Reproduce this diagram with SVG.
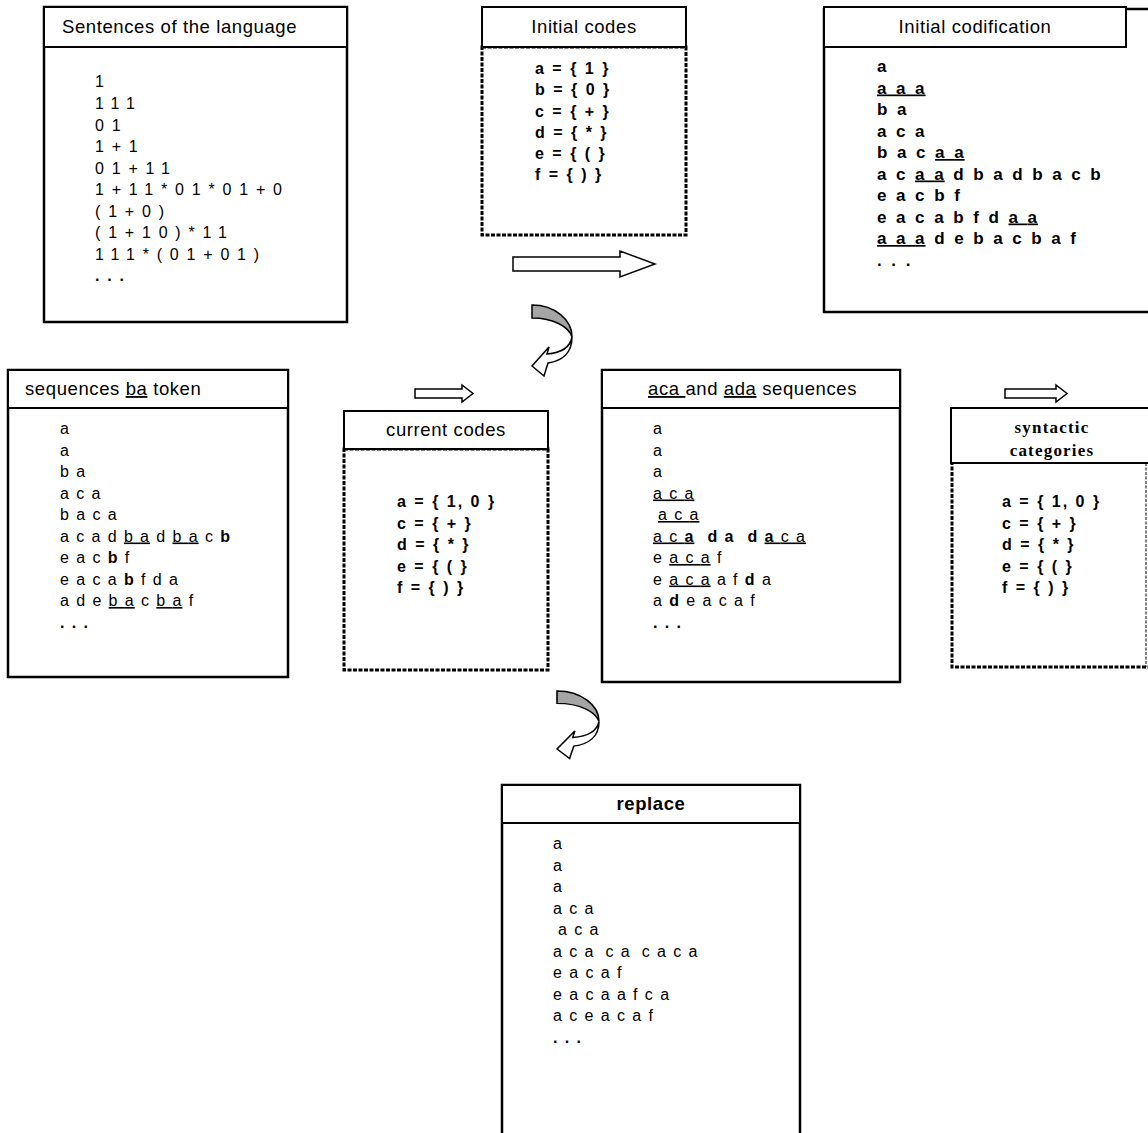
<svg xmlns="http://www.w3.org/2000/svg" width="1148" height="1133" viewBox="0 0 1148 1133">
<defs>
<style>
.box{fill:#fff;stroke:#000;stroke-width:2.5}
.hdr{fill:#fff;stroke:#000;stroke-width:2}
.bg{fill:#fff;stroke:none}
.dot{fill:none;stroke:#000;stroke-width:3;stroke-dasharray:4 1.5}
.thin{fill:none;stroke:#000;stroke-width:1;stroke-dasharray:3 1.5}
.ttl{font-family:"Liberation Sans",Arial,sans-serif;font-size:18.5px;letter-spacing:0.6px;fill:#000}
.ser{font-family:"Liberation Serif","Times New Roman",serif;font-size:17px;font-weight:bold;letter-spacing:1.2px;fill:#000}
.seq{font-family:"Liberation Sans",Arial,sans-serif;font-size:16px;letter-spacing:7.3px;fill:#000}
.num{font-family:"Liberation Sans",Arial,sans-serif;font-size:16px;letter-spacing:7.8px;fill:#000}
.ic{font-family:"Liberation Sans",Arial,sans-serif;font-size:17px;font-weight:bold;letter-spacing:9.6px;fill:#000}
.cod{font-family:"Liberation Sans",Arial,sans-serif;font-size:16px;font-weight:bold;letter-spacing:2px;fill:#000}
.mid{text-anchor:middle}
.b{font-weight:bold}
.u{text-decoration:underline}
.e{letter-spacing:1px}
.arr{fill:#fff;stroke:#000;stroke-width:1.5;stroke-linejoin:miter}
.band{fill:#a5a5a5;stroke:#000;stroke-width:1.5}
</style>
<g id="curl">
<path class="arr" d="M40,32 C38,43 28,48 15,49 L17,42 L0,61 L12,71 L16,58 C30,56 40,48 40,32 Z"/>
<path class="band" d="M0,0 C23,0 40,15 40,32 C37,22 22,13 0,13 Z"/>
</g>
</defs>
<rect width="1148" height="1133" fill="#fff"/>

<g id="connectors">
<path class="arr" d="M513,257 H620 V251 L655,264 L620,277 V271 H513 Z"/>
<path class="arr" d="M415,389 H462 V385 L473,393.5 L462,402 V398 H415 Z"/>
<path class="arr" d="M1005,389 H1056 V385 L1067,393.5 L1056,402 V398 H1005 Z"/>
<use href="#curl" transform="translate(532,305)"/>
<use href="#curl" transform="translate(557,691) scale(1.05,0.95)"/>
</g>

<g id="sentences">
<rect class="box" x="44" y="7" width="303" height="315"/>
<rect class="hdr" x="44" y="7" width="303" height="40"/>
<text class="ttl" x="62" y="33">Sentences of the language</text>
<text class="num" x="95" y="87">1</text>
<text class="num" x="95" y="109">111</text>
<text class="num" x="95" y="130.5">01</text>
<text class="num" x="95" y="152">1+1</text>
<text class="num" x="95" y="173.5">01+11</text>
<text class="num" x="95" y="195">1+11*01*01+0</text>
<text class="num" x="95" y="216.5">(1+0)</text>
<text class="num" x="95" y="238">(1+10)*11</text>
<text class="num" x="95" y="259.5">111*(01+01)</text>
<text class="num b" x="95" y="281">...</text>
</g>

<g id="initial-codes">
<rect class="bg" x="482" y="47" width="204" height="188"/>
<rect class="dot" x="482" y="47" width="204" height="188"/>
<rect class="hdr" x="482" y="7" width="204" height="40"/>
<text class="ttl mid" x="584" y="33">Initial codes</text>
<text class="cod" x="535" y="74">a = { 1 }</text>
<text class="cod" x="535" y="95">b = { 0 }</text>
<text class="cod" x="535" y="116.5">c = { + }</text>
<text class="cod" x="535" y="137.5">d = { * }</text>
<text class="cod" x="535" y="159">e = { ( }</text>
<text class="cod" x="535" y="180">f = { ) }</text>
</g>

<g id="initial-codification">
<rect class="box" x="824" y="9" width="340" height="303"/>
<rect class="hdr" x="824" y="7" width="302" height="40"/>
<text class="ttl mid" x="975" y="33">Initial codification</text>
<text class="ic" x="877" y="72">a</text>
<text class="ic" x="877" y="93.5"><tspan class="u">aa<tspan class="e">a</tspan></tspan></text>
<text class="ic" x="877" y="115">ba</text>
<text class="ic" x="877" y="136.5">aca</text>
<text class="ic" x="877" y="158">bac<tspan class="u">a<tspan class="e">a</tspan></tspan></text>
<text class="ic" x="877" y="179.5">ac<tspan class="u">a<tspan class="e">a</tspan></tspan><tspan dx="8.6">dbadbacb</tspan></text>
<text class="ic" x="877" y="201">eacbf</text>
<text class="ic" x="877" y="222.5">eacabfd<tspan class="u">a<tspan class="e">a</tspan></tspan></text>
<text class="ic" x="877" y="244"><tspan class="u">aa<tspan class="e">a</tspan></tspan><tspan dx="8.6">debacbaf</tspan></text>
<text class="ic" x="877" y="266">...</text>
</g>

<g id="sequences-ba">
<rect class="box" x="8" y="370" width="280" height="307"/>
<rect class="hdr" x="8" y="370" width="280" height="38"/>
<text class="ttl" x="25" y="395">sequences <tspan class="u">ba</tspan> token</text>
<text class="seq" x="60" y="434">a</text>
<text class="seq" x="60" y="455.5">a</text>
<text class="seq" x="60" y="477">ba</text>
<text class="seq" x="60" y="498.5">aca</text>
<text class="seq" x="60" y="520">baca</text>
<text class="seq" x="60" y="541.5">acad<tspan class="u">b<tspan class="e">a</tspan></tspan><tspan dx="6.3">d</tspan><tspan class="u">b<tspan class="e">a</tspan></tspan><tspan dx="6.3">c</tspan><tspan class="b">b</tspan></text>
<text class="seq" x="60" y="563">eac<tspan class="b">b</tspan>f</text>
<text class="seq" x="60" y="584.5">eaca<tspan class="b">b</tspan>fda</text>
<text class="seq" x="60" y="606">ade<tspan class="u">b<tspan class="e">a</tspan></tspan><tspan dx="6.3">c</tspan><tspan class="u">b<tspan class="e">a</tspan></tspan><tspan dx="6.3">f</tspan></text>
<text class="seq b" x="60" y="628">...</text>
</g>

<g id="current-codes">
<rect class="bg" x="344" y="449" width="204" height="221"/>
<rect class="dot" x="344" y="449" width="204" height="221"/>
<rect class="hdr" x="344" y="411" width="204" height="38"/>
<text class="ttl mid" x="446" y="436">current codes</text>
<text class="cod" x="397" y="507">a = { 1, 0 }</text>
<text class="cod" x="397" y="528.5">c = { + }</text>
<text class="cod" x="397" y="550">d = { * }</text>
<text class="cod" x="397" y="571.5">e = { ( }</text>
<text class="cod" x="397" y="593">f = { ) }</text>
</g>

<g id="aca-ada">
<rect class="box" x="602" y="370" width="298" height="312"/>
<rect class="hdr" x="602" y="370" width="298" height="38"/>
<text class="ttl" x="648" y="395"><tspan class="u">aca </tspan>and <tspan class="u">ada</tspan> sequences</text>
<text class="seq" x="653" y="434">a</text>
<text class="seq" x="653" y="455.5">a</text>
<text class="seq" x="653" y="477">a</text>
<text class="seq" x="653" y="498.5"><tspan class="u">ac<tspan class="e">a</tspan></tspan></text>
<text class="seq" x="658" y="520"><tspan class="u">ac<tspan class="e">a</tspan></tspan></text>
<text class="seq" x="653" y="541.5" word-spacing="-5"><tspan class="u">ac<tspan class="b e">a</tspan></tspan><tspan class="b" dx="6.3"> da d</tspan><tspan class="u"><tspan class="b">a</tspan>c<tspan class="e">a</tspan></tspan></text>
<text class="seq" x="653" y="563">e<tspan class="u">ac<tspan class="e">a</tspan></tspan><tspan dx="6.3">f</tspan></text>
<text class="seq" x="653" y="584.5">e<tspan class="u">ac<tspan class="e">a</tspan></tspan><tspan dx="6.3">af</tspan><tspan class="b">d</tspan>a</text>
<text class="seq" x="653" y="606">a<tspan class="b">d</tspan>eacaf</text>
<text class="seq b" x="653" y="628">...</text>
</g>

<g id="syntactic-categories">
<rect class="bg" x="952" y="450" width="196" height="217"/>
<path class="dot" d="M952,450 V667 H1150"/>
<path class="thin" d="M1146,463 V667"/>
<rect class="hdr" x="951" y="408" width="210" height="55"/>
<text class="ser mid" x="1052" y="433">syntactic</text>
<text class="ser mid" x="1052" y="456">categories</text>
<text class="cod" x="1002" y="507">a = { 1, 0 }</text>
<text class="cod" x="1002" y="528.5">c = { + }</text>
<text class="cod" x="1002" y="550">d = { * }</text>
<text class="cod" x="1002" y="571.5">e = { ( }</text>
<text class="cod" x="1002" y="593">f = { ) }</text>
</g>

<g id="replace">
<rect class="box" x="502" y="785" width="298" height="360"/>
<rect class="hdr" x="502" y="785" width="298" height="38"/>
<text class="ttl mid b" x="651" y="810">replace</text>
<text class="seq" x="553" y="849">a</text>
<text class="seq" x="553" y="870.5">a</text>
<text class="seq" x="553" y="892">a</text>
<text class="seq" x="553" y="913.5">aca</text>
<text class="seq" x="558" y="935">aca</text>
<text class="seq" x="553" y="956.5" word-spacing="-7">aca ca caca</text>
<text class="seq" x="553" y="978">eacaf</text>
<text class="seq" x="553" y="999.5">eacaafca</text>
<text class="seq" x="553" y="1021">aceacaf</text>
<text class="seq b" x="553" y="1043">...</text>
</g>
</svg>
